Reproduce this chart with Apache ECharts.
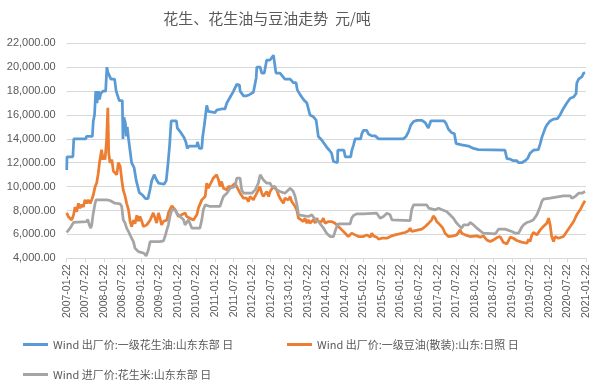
<!DOCTYPE html>
<html>
<head>
<meta charset="utf-8">
<script src="https://cdn.jsdelivr.net/npm/echarts@6/dist/echarts.min.js"></script>
<style>
html,body{margin:0;padding:0;background:#fff;}
#chart{width:600px;height:383px;}
</style>
</head>
<body>
<div id="chart"></div>
<script>
// x values: months elapsed since 2007-01-22
const xTickLabels = ['2007-01-22','2007-07-22','2008-01-22','2008-07-22','2009-01-22','2009-07-22','2010-01-22','2010-07-22','2011-01-22','2011-07-22','2012-01-22','2012-07-22','2013-01-22','2013-07-22','2014-01-22','2014-07-22','2015-01-22','2015-07-22','2016-01-22','2016-07-22','2017-01-22','2017-07-22','2018-01-22','2018-07-22','2019-01-22','2019-07-22','2020-01-22','2020-07-22','2021-01-22'];
const yTicks = [4000,6000,8000,10000,12000,14000,16000,18000,20000,22000];
const seriesNames = ['Wind 出厂价:一级花生油:山东东部 日','Wind 出厂价:一级豆油(散装):山东:日照 日','Wind 进厂价:花生米:山东东部 日'];

const peanutOil = [[0,11400],[0.1,12500],[2.0,12500],[2.3,14000],[6.2,14000],[6.4,14200],[8.3,14200],[8.6,15500],[9.0,16000],[9.4,18000],[9.8,17000],[10.3,18000],[10.6,17300],[11.0,17800],[11.8,18000],[12.6,18000],[13.0,20000],[13.3,19600],[13.8,19500],[14.3,19000],[15.5,19000],[16.0,18000],[16.6,18000],[17.0,17200],[18.0,17200],[18.2,14000],[18.5,15800],[19.0,15300],[19.3,14200],[19.6,15000],[20.0,14000],[20.5,13000],[21.0,12000],[21.8,11600],[22.5,10500],[23.5,9500],[24.5,9300],[25.5,9000],[26.3,9000],[27.0,9800],[27.5,10500],[28.3,11000],[29.0,10600],[29.7,10300],[31.5,10200],[32.2,10500],[32.8,12000],[33.3,13500],[33.8,15500],[35.5,15500],[35.8,14900],[37.0,14500],[38.0,14100],[38.6,13700],[39.0,13200],[39.6,13400],[40.5,13400],[42.1,13400],[42.3,13750],[42.9,13200],[43.7,13200],[44.0,14200],[44.5,15100],[45.3,16800],[45.8,16300],[46.4,16200],[48.0,16200],[48.5,16400],[50.1,16500],[51.2,16500],[51.8,17000],[52.9,17500],[53.9,17950],[55.0,18560],[55.9,18500],[56.1,18000],[57.2,17600],[58.2,17600],[59.1,17700],[60.4,17900],[61.3,19100],[61.5,20000],[62.6,20000],[63.1,19500],[63.9,19500],[64.7,20600],[65.8,20600],[66.9,21000],[67.4,20900],[67.7,19500],[69.0,19500],[70.6,19000],[72.3,19000],[73.3,18700],[74.2,18700],[74.6,18100],[75.5,17700],[76.6,17300],[77.7,17000],[78.7,16000],[79.8,15850],[80.7,15570],[81.4,14200],[82.5,13900],[83.6,13500],[84.1,13300],[85.0,13050],[85.7,12800],[86.3,12100],[86.8,12000],[87.6,12000],[87.7,13050],[89.7,13050],[90.1,12500],[91.9,12500],[92.2,13000],[92.8,13500],[93.3,14000],[95.1,14000],[95.5,14450],[96.0,14700],[97.1,14700],[97.6,14400],[98.7,14250],[99.8,14250],[100.9,14000],[108.9,14000],[109.8,14200],[110.6,14600],[111.3,15150],[112.2,15450],[113.3,15550],[114.9,15550],[116.0,15350],[117.0,14900],[117.8,15500],[122.1,15500],[122.7,15300],[123.5,14800],[124.6,14500],[125.4,14450],[126.0,13600],[126.4,13500],[127.8,13500],[128.4,13400],[130.0,13400],[131.6,13200],[133.2,13100],[133.8,13050],[141.8,13050],[142.4,12350],[143.5,12300],[144.5,12170],[145.6,12170],[146.2,12000],[147.2,12000],[148.3,12170],[149.1,12350],[149.9,12800],[151.0,13050],[152.6,13100],[153.2,13600],[153.7,14100],[154.8,14900],[155.3,15150],[156.4,15500],[157.5,15650],[158.8,15700],[159.6,16000],[160.7,16550],[161.8,17000],[162.9,17400],[164.0,17500],[164.8,17800],[165.0,18650],[165.6,19000],[166.7,19200],[167.2,19500],[167.7,19550]];

const soybeanOil = [[0,7800],[0.5,7500],[1.6,7200],[2.2,7600],[2.7,8300],[3.2,7900],[3.8,8600],[4.3,8200],[4.9,8500],[5.4,8300],[5.9,8900],[6.5,8600],[7.0,8900],[7.6,8600],[8.1,8900],[8.6,9300],[9.2,10000],[9.7,10300],[10.2,11100],[10.6,12000],[11.0,12100],[11.3,13100],[11.7,12250],[12.1,12650],[12.4,12250],[12.9,13900],[13.3,16600],[13.6,12800],[14.0,12000],[14.6,12250],[15.1,11300],[15.6,11300],[16.2,11000],[16.7,12000],[17.3,11700],[17.8,10600],[18.3,9700],[18.9,9200],[19.4,8600],[20.0,8050],[20.5,7100],[21.0,6650],[21.6,7200],[22.1,6900],[22.7,7600],[23.2,7100],[23.7,7500],[24.3,7100],[24.8,6650],[25.4,6550],[25.9,6800],[26.4,6650],[27.0,7200],[27.5,7500],[28.0,7800],[28.6,7350],[29.1,6950],[29.7,7800],[30.2,7350],[30.7,6800],[31.3,7100],[31.8,7100],[32.4,7200],[32.9,7800],[34.0,8400],[34.5,8300],[35.1,8050],[35.6,7800],[36.1,7500],[36.7,7650],[37.2,7650],[37.8,7800],[38.3,7800],[38.8,7500],[39.4,7650],[39.9,7350],[40.5,7500],[41.0,7200],[41.5,7100],[42.1,7640],[42.6,8200],[43.1,8340],[43.7,8890],[44.2,8890],[44.8,9170],[45.3,10290],[45.8,9870],[46.4,9730],[46.9,10430],[47.4,10710],[48.0,10850],[48.5,10990],[49.1,10570],[49.6,10010],[50.1,10430],[50.7,9870],[51.2,10010],[51.8,9730],[52.3,10010],[52.9,9870],[53.4,10010],[53.9,10150],[54.5,10290],[55.0,10010],[55.5,9870],[56.1,9450],[56.6,9590],[57.2,9030],[57.7,9170],[58.2,9030],[58.8,8750],[59.3,9170],[59.9,9170],[60.4,8890],[60.9,9170],[61.5,9450],[62.0,9590],[62.5,10010],[63.1,9450],[63.6,9170],[64.2,9310],[64.7,9590],[65.3,9170],[65.8,9590],[66.3,9730],[66.9,10010],[67.4,9870],[67.9,9730],[68.5,9310],[69.0,9030],[69.6,9170],[70.1,8610],[70.6,9030],[71.2,9170],[71.7,8890],[72.3,9170],[72.8,8750],[73.3,8750],[73.9,8340],[74.4,8060],[75.0,7360],[75.5,7220],[76.6,7080],[77.1,7360],[77.7,6940],[78.2,7220],[78.7,6940],[79.3,7080],[79.8,7220],[80.4,6940],[80.9,7360],[81.4,7080],[82.0,7100],[82.5,7080],[83.0,7360],[83.6,6940],[84.1,6800],[84.7,7080],[85.2,7220],[85.7,7080],[86.3,7220],[86.8,6940],[87.4,6800],[87.9,6660],[88.4,6660],[89.0,6380],[89.5,6240],[90.1,6100],[90.6,5960],[91.1,5820],[91.7,5960],[92.2,6100],[92.8,6100],[93.3,5960],[93.8,5820],[94.4,5820],[94.9,5960],[96.0,5820],[97.1,5960],[98.2,5770],[98.7,6100],[99.2,5880],[100.3,5770],[100.9,5600],[101.9,5680],[103.6,5680],[104.1,5820],[105.2,5880],[106.2,5960],[107.3,6020],[108.4,6100],[109.5,6160],[110.6,6300],[111.1,6520],[111.6,6240],[112.7,6320],[113.8,6380],[114.9,6440],[116.0,6660],[117.1,6940],[118.1,7220],[118.6,7550],[119.2,7360],[119.7,7080],[120.8,6800],[121.7,6520],[122.4,6100],[123.5,5820],[124.0,5700],[125.1,5880],[126.2,5960],[126.7,6100],[127.3,6380],[127.8,6100],[128.9,5960],[129.4,6100],[130.5,5820],[131.1,5740],[132.7,5880],[133.8,5770],[134.8,5880],[135.9,5540],[137.0,5400],[138.1,5540],[139.2,5740],[140.2,5820],[141.3,5320],[142.4,5210],[143.5,5770],[144.5,5680],[145.6,5490],[147.2,5350],[148.9,5260],[149.4,5600],[149.9,5400],[150.5,5960],[151.0,6160],[152.1,5960],[153.2,6380],[154.2,6660],[155.3,6940],[155.9,7360],[156.4,6800],[156.9,5820],[157.5,5400],[158.0,5820],[159.1,5680],[160.7,5820],[161.8,6240],[162.9,6660],[164.0,7080],[165.0,7640],[166.1,8060],[167.2,8610],[167.7,8810]];

const peanutKernel = [[0,6160],[1.1,6520],[2.2,7000],[2.7,7080],[6.5,7080],[6.8,7270],[7.3,6800],[7.8,6520],[8.1,6800],[8.6,7780],[9.2,8610],[9.5,8890],[12.9,8890],[13.5,8950],[14.0,8840],[14.6,8750],[15.6,8610],[16.2,8560],[17.3,8560],[17.8,8340],[18.3,7220],[18.9,6940],[19.4,6520],[20.0,6240],[20.5,5960],[21.0,5680],[21.6,5400],[22.1,4840],[23.2,4560],[24.3,4480],[25.0,4420],[25.7,4200],[26.1,4090],[26.4,4700],[27.0,5400],[27.5,5540],[28.6,5400],[30.2,5400],[31.3,5460],[31.8,5820],[32.4,6380],[32.9,6800],[33.4,7500],[34.0,8060],[34.5,8200],[35.1,8060],[35.6,7780],[36.7,7500],[37.8,7220],[38.3,6800],[38.8,6660],[39.4,7220],[39.9,6900],[40.5,6520],[41.0,6660],[41.5,6520],[43.1,6520],[43.7,7220],[44.2,8060],[44.8,8470],[45.3,8610],[46.4,8340],[46.9,8470],[47.4,8340],[49.6,8340],[50.1,8750],[50.7,9170],[51.8,9450],[52.9,9870],[54.5,10010],[55.0,10710],[56.1,10710],[56.6,9730],[57.2,9450],[59.9,9450],[61.0,9730],[61.5,10010],[62.0,10290],[62.6,10990],[63.1,10990],[63.6,10570],[64.7,10290],[65.8,10290],[66.3,10010],[67.4,10010],[67.9,9730],[69.0,9590],[70.6,9450],[72.3,9870],[72.8,9730],[73.3,9590],[73.9,9170],[74.4,8610],[75.0,7640],[75.5,7500],[78.2,7500],[79.3,7640],[79.8,7500],[80.4,7220],[81.4,7080],[82.0,6940],[83.1,6520],[84.1,6100],[85.2,5820],[85.7,5770],[86.3,5820],[86.8,6240],[87.4,6660],[87.9,6880],[91.7,6880],[92.2,7360],[92.8,7580],[93.8,7720],[96.0,7720],[96.6,7780],[100.3,7780],[100.9,7640],[101.4,7360],[102.5,7500],[103.6,7780],[104.1,7920],[104.6,7640],[105.2,7220],[105.7,7160],[111.1,7160],[111.6,8060],[112.2,8470],[116.5,8470],[117.1,8200],[117.6,8060],[119.2,8060],[120.3,8200],[121.4,8060],[121.9,8200],[122.9,7920],[124.0,7650],[125.1,7360],[126.0,7000],[126.7,6800],[127.8,6520],[128.4,6800],[130.0,6800],[130.5,7000],[131.6,6800],[132.7,6520],[133.8,6300],[134.8,6100],[135.4,6040],[138.6,6040],[139.2,6240],[139.7,6440],[141.8,6440],[142.4,6320],[144.0,6240],[145.1,6100],[146.2,6100],[146.7,6240],[147.2,6600],[147.8,6800],[148.9,7000],[149.9,7080],[151.0,7220],[152.1,7640],[152.6,7780],[153.2,8340],[153.7,8750],[154.2,8950],[156.4,9030],[156.9,9170],[160.7,9230],[162.9,9230],[163.4,9030],[164.0,8890],[164.5,9170],[165.6,9450],[166.7,9450],[167.7,9590]];

const colors = ['#5B9BD5','#ED7D31','#A5A5A5'];

function fmtNum(v){
  const s = Math.round(v).toString().replace(/\B(?=(\d{3})+(?!\d))/g, ',');
  return s + '.00';
}

const chart = echarts.init(document.getElementById('chart'), null, {renderer:'canvas'});
const textColor = '#595959';
const legendText = {color:textColor, fontSize:11, fontFamily:'"Noto Sans CJK SC","Noto Sans",sans-serif'};
const legendBase = {icon:'rect', itemWidth:25, itemHeight:3, textStyle:legendText, selectedMode:false};

chart.setOption({
  animation:false,
  backgroundColor:'#ffffff',
  color: colors,
  title:{
    text:'花生、花生油与豆油走势  元/吨',
    left:262, top:6, textAlign:'center',
    textStyle:{color:textColor, fontSize:15, fontWeight:'normal', fontFamily:'"Noto Sans CJK SC",sans-serif'}
  },
  legend:[
    Object.assign({data:[seriesNames[0]], left:18, top:334}, legendBase),
    Object.assign({data:[seriesNames[1]], left:282, top:334}, legendBase),
    Object.assign({data:[seriesNames[2]], left:18, top:364}, legendBase)
  ],
  grid:{left:66.7, right:14, top:43.3, bottom:124.7, containLabel:false},
  xAxis:{
    type:'value', min:0, max:(xTickLabels.length-1)*6, interval:6,
    axisLine:{show:true, lineStyle:{color:'#d9d9d9', width:1}},
    axisTick:{show:true, length:4, lineStyle:{color:'#d9d9d9'}},
    splitLine:{show:false},
    axisLabel:{
      rotate:90, margin:6, color:textColor, fontSize:10.5,
      fontFamily:'"Liberation Sans",Arial,sans-serif',
      formatter:function(v){ return xTickLabels[Math.round(v/6)] || ''; }
    }
  },
  yAxis:{
    type:'value', min:yTicks[0], max:yTicks[yTicks.length-1], interval:2000,
    axisLine:{show:false}, axisTick:{show:false},
    splitLine:{show:true, lineStyle:{color:'#d9d9d9', width:1}},
    axisLabel:{margin:11, color:textColor, fontSize:11,
      fontFamily:'"Liberation Sans",Arial,sans-serif', formatter:fmtNum}
  },
  series:[
    {name:seriesNames[0], type:'line', data:peanutOil, showSymbol:false, lineStyle:{width:2.75, color:colors[0]}, itemStyle:{color:colors[0]}},
    {name:seriesNames[1], type:'line', data:soybeanOil, showSymbol:false, lineStyle:{width:2.75, color:colors[1]}, itemStyle:{color:colors[1]}},
    {name:seriesNames[2], type:'line', data:peanutKernel, showSymbol:false, lineStyle:{width:2.75, color:colors[2]}, itemStyle:{color:colors[2]}}
  ]
});
</script>
</body>
</html>
